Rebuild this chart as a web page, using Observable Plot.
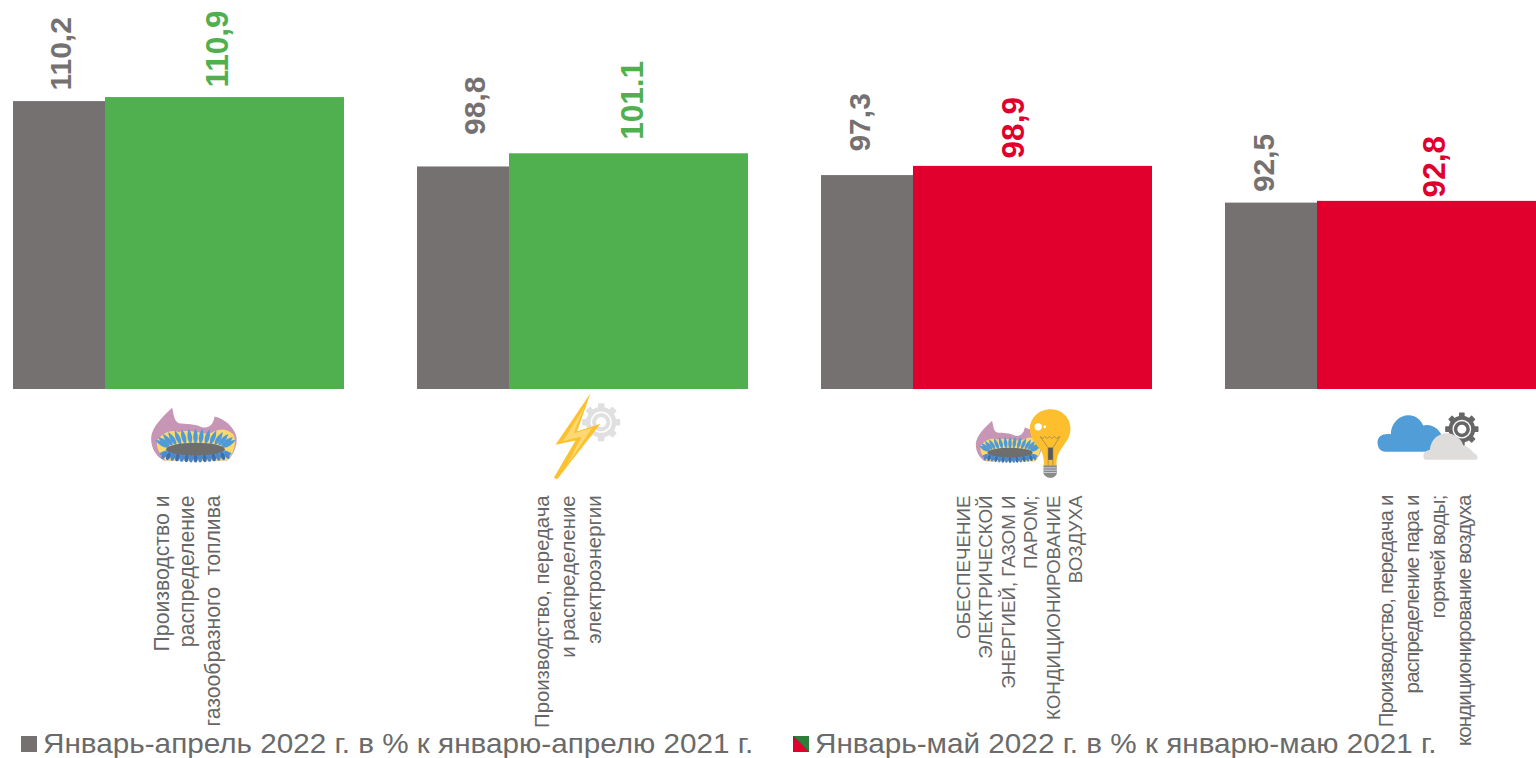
<!DOCTYPE html>
<html lang="ru">
<head>
<meta charset="utf-8">
<script src="https://cdn.jsdelivr.net/npm/d3@7"></script>
<script src="https://cdn.jsdelivr.net/npm/@observablehq/plot@0.6"></script>
<style>
html,body{margin:0;padding:0;background:#fff;overflow:hidden}
#wrap{position:relative;width:1536px;height:758px;overflow:hidden;font-family:"Liberation Sans",Arial,sans-serif}
.lg{position:absolute;top:731px;font-size:28px;line-height:26px;color:#6a6a6a;white-space:nowrap;transform:scaleX(1.06);transform-origin:left center}
.sw{position:absolute;width:16px;height:16px;top:736px}
</style>
</head>
<body>
<div id="wrap"></div>
<script>
const categories = ["gas", "power", "utilities", "steam"];
const previous = [110.2, 98.8, 97.3, 92.5];
const current = [110.9, 101.1, 98.9, 92.8];
const previousLabels = ["110,2", "98,8", "97,3", "92,5"];
const currentLabels = ["110,9", "101.1", "98,9", "92,8"];
const categoryNames = [
  "Производство и\nраспределение\nгазообразного  топлива",
  "Производство, передача\nи распределение\nэлектроэнергии",
  "ОБЕСПЕЧЕНИЕ\nЭЛЕКТРИЧЕСКОЙ\nЭНЕРГИЕЙ, ГАЗОМ И\nПАРОМ;\nКОНДИЦИОНИРОВАНИЕ\nВОЗДУХА",
  "Производство, передача и\nраспределение пара и\nгорячей воды;\nкондиционирование воздуха"
];
const legendLabels = ["Январь-апрель 2022 г. в % к январю-апрелю 2021 г.", "Январь-май 2022 г. в % к январю-маю 2021 г."];

const GRAY = "#767171", GREEN = "#50b050", RED = "#e1002d";
const up = v => v >= 100;

/* label placement, per group */
const prevNudge = [[-118,-11],[-108,-32],[-127,-24],[-127,-11]];
const curNudge = [[39,-10],[50,-14],[27,-8],[44,-4]];
const nameStyle = [
  {dx:7,fontSize:21.2,lineHeight:1.21},
  {dx:-16,fontSize:20.3,lineHeight:1.27},
  {dx:32,fontSize:18.75,lineHeight:1.2},
  {dx:33,fontSize:20.5,lineHeight:1.27}
];
const tightLetterSpacing = "-0.85px";

/* decorative pictograms */
function gasArt() {
  let p = `<path fill="#c795b5" d="M80 22C50 50 20 80 17 110C15 145 35 170 55 180L245 180C265 165 278 130 272 105C262 75 235 55 207 48C205 70 190 85 170 80C150 70 120 70 100 68C85 62 85 40 80 22Z"/>`;
  p += `<path fill="#fdd86b" d="M36 118C50 100 75 85 100 95C130 85 170 100 190 100C210 90 235 75 264 102C276 130 262 165 245 180L60 180C40 160 30 135 36 118Z"/>`;
  for (const a of [-84,-70,-56,-44,-32,-21,-10,0,10,21,32,44,56,70,84]) {
    const r = a*Math.PI/180, x = 150+Math.sin(r)*98, y = 134-Math.cos(r)*24;
    p += `<path fill="#4f9bd9" transform="translate(${x} ${y}) rotate(${a*.72})" d="M0 -26C9 -8 9 10 0 20C-9 10 -9 -8 0 -26Z"/>`;
  }
  p += `<ellipse cx="150" cy="160" rx="108" ry="17" fill="#4f9bd9"/>`;
  for (let i=0;i<15;i++){
    const x = 55+i*13.6, y = 174-(i-7)*(i-7)*.2;
    p += `<ellipse cx="${x}" cy="${y}" rx="6" ry="12" fill="${i%2?"#3d6fb0":"#4f87c8"}" transform="rotate(${(7-i)*3} ${x} ${y})"/>`;
  }
  p += `<ellipse cx="150" cy="146" rx="88" ry="19" fill="#6e6e6e"/>`;
  return p;
}
function gearArt(cx, cy, r, c) {
  let s = `<circle cx="${cx}" cy="${cy}" r="${r*.8}" fill="${c}"/>`;
  for (let i=0;i<8;i++) s += `<rect x="${cx-r*.17}" y="${cy-r}" width="${r*.34}" height="${r*.4}" rx="${r*.04}" fill="${c}" transform="rotate(${i*45} ${cx} ${cy})"/>`;
  return s + `<circle cx="${cx}" cy="${cy}" r="${r*.56}" fill="#fff"/>` +
    `<circle cx="${cx}" cy="${cy}" r="${r*.48}" fill="${c}"/><circle cx="${cx}" cy="${cy}" r="${r*.27}" fill="#fff"/>`;
}
function boltArt() {
  return gearArt(167,95,57,"#e0e0e0") +
    `<path fill="#fdc02f" d="M135 8L30 163L90 150L25 262L35 266L165 100L95 122Z"/>` +
    `<path fill="#fdd873" d="M118 48L52 152L108 138L62 228L140 112L84 128Z"/>`;
}
function bulbArt() {
  return `<path fill="#fdbf2d" d="M240 14C205 14 178 40 178 75C178 105 205 125 215 145C220 160 220 170 220 182L258 182C258 170 258 160 265 145C275 125 300 105 300 72C300 40 275 14 240 14Z"/>` +
    `<path fill="none" stroke="#666" stroke-width="1.5" d="M209 96L216 102L223 96L230 102L237 96L244 102L251 96L258 102L268 96L247 130L247 182M209 96L233 130L233 182M247 130L233 130"/>` +
    `<rect x="233" y="130" width="14" height="36" fill="#5a5a5a"/>` +
    `<path fill="#8a8a8a" d="M219 182H259V206C259 212 250 220 240 220C230 220 219 212 219 206Z"/>` +
    `<path stroke="#eee" stroke-width="2" d="M219 190H259M219 197H259M220 204H258"/>` +
    `<circle cx="203" cy="67" r="11" fill="#fff"/><circle cx="223" cy="67" r="4" fill="#fff"/>`;
}
function cloudArt() {
  return gearArt(268,68,50,"#666") +
    `<path fill="#519dd8" d="M40 136C20 136 15 118 15 108C15 90 30 80 55 83C55 50 80 26 108 26C130 26 145 40 152 57C175 50 205 65 212 100L212 136Z"/>` +
    `<path fill="#dedddc" d="M162 160C150 160 146 135 172 130C175 100 195 80 225 80C255 82 270 105 272 116C290 120 300 135 305 140C318 145 318 160 308 160Z"/>`;
}
const uri = (w,h,body) => "data:image/svg+xml;utf8," + encodeURIComponent(`<svg xmlns="http://www.w3.org/2000/svg" viewBox="0 0 ${w} ${h}" width="${w}" height="${h}">${body}</svg>`);
const iconSources = [
  uri(300,204,gasArt()),
  uri(240,276,boltArt()),
  uri(318,234,`<g transform="translate(3 32) scale(.77)">${gasArt()}</g>`+bulbArt()),
  uri(336,180,cloudArt())
];
const iconBoxes = [[100,68,195,434],[80,92,585,436],[106,78,1023,443],[112,60,1428,436]];

const rows = categories.map((c,i)=>({c,prev:previous[i],cur:current[i],pl:previousLabels[i],cl:currentLabels[i],name:categoryNames[i],icon:iconSources[i]}));
const base = 60;

const chart = Plot.plot({
  width: 1536, height: 758,
  margin: 0,
  style: {background:"#fff", fontFamily:'"Liberation Sans",Arial,sans-serif'},
  x: {type:"band", domain:categories, range:[13,1556], paddingInner:73/404, paddingOuter:0, axis:null},
  y: {domain:[60,128], range:[389,-1], axis:null},
  marks: [
    Plot.barY(rows,{x:"c",y1:()=>base,y2:"prev",fill:GRAY,insetRight:239}),
    Plot.barY(rows,{x:"c",y1:()=>base,y2:"cur",fill:d=>up(d.cur)?GREEN:RED,insetLeft:92}),
    ...rows.map((d,i)=>Plot.text([d],{x:"c",y:"prev",text:"pl",rotate:-90,textAnchor:"start",dx:prevNudge[i][0],dy:prevNudge[i][1],fontSize:30,fontWeight:"bold",fill:"#767171"})),
    ...rows.map((d,i)=>Plot.text([d],{x:"c",y:"cur",text:"cl",rotate:-90,textAnchor:"start",dx:curNudge[i][0],dy:curNudge[i][1],fontSize:31.5,fontWeight:"bold",fill:up(d.cur)?GREEN:RED})),
    ...rows.map((d,i)=>Plot.text([d],{x:"c",y:()=>base,text:"name",rotate:-90,textAnchor:"end",dx:nameStyle[i].dx,dy:106,fontSize:nameStyle[i].fontSize,lineHeight:nameStyle[i].lineHeight,fill:"#666"})),
    ...rows.map((d,i)=>Plot.image([d],{x:"c",y:()=>base,src:"icon",width:iconBoxes[i][0],height:iconBoxes[i][1],dx:iconBoxes[i][2]-(13+165.5+i*404),dy:iconBoxes[i][3]-389}))
  ]
});
d3.select(chart).selectAll("text").filter(function(){return this.textContent.includes("кондиционирование воздуха");}).attr("letter-spacing",tightLetterSpacing).style("letter-spacing",tightLetterSpacing);
const wrap = document.getElementById("wrap");
wrap.appendChild(chart);
wrap.insertAdjacentHTML("beforeend",
  `<div class="sw" style="left:21px;background:${GRAY}"></div>
   <div class="lg" style="left:43px">${legendLabels[0]}</div>
   <div class="sw" style="left:793px;background:linear-gradient(to top right,${RED} 50%,#2e7d3a 50%)"></div>
   <div class="lg" style="left:815px">${legendLabels[1]}</div>`);
</script>
</body>
</html>
